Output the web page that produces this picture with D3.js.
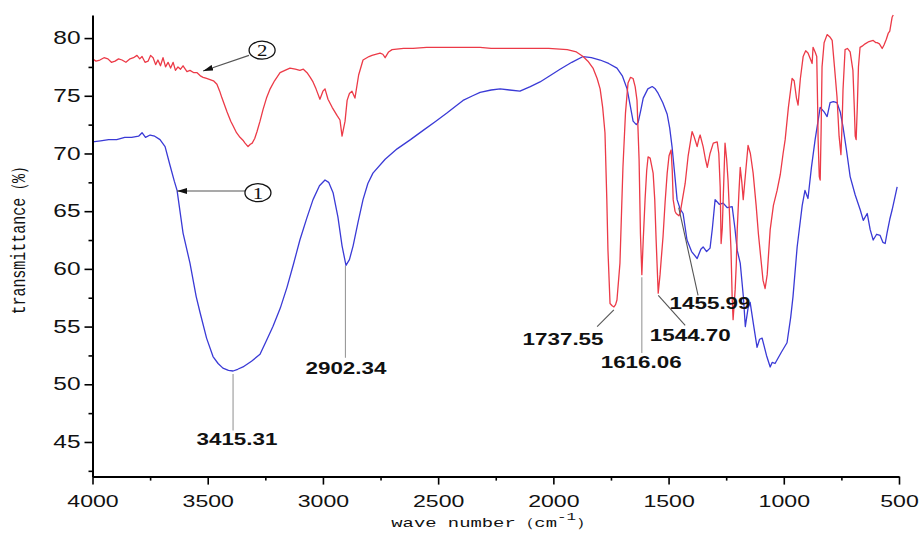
<!DOCTYPE html>
<html>
<head>
<meta charset="utf-8">
<script src="https://cdn.jsdelivr.net/npm/d3@7"></script>
<style>
body { margin: 0; background: #fff; }
</style>
</head>
<body>
<div id="chart"></div>
<script>
// tick values
const xTicks = [4000, 3500, 3000, 2500, 2000, 1500, 1000, 500];
const xMinor = [3750, 3250, 2750, 2250, 1750, 1250, 750];
const yTicks = [45, 50, 55, 60, 65, 70, 75, 80];
const yMinor = [42.5, 47.5, 52.5, 57.5, 62.5, 67.5, 72.5, 77.5];

// sample 1 (blue) : [wave number, transmittance]
const sample1 = [[4000,71.0],[3965,71.1],[3930,71.2],[3895,71.2],[3860,71.4],[3830,71.4],[3800,71.5],[3785,71.8],[3770,71.4],[3750,71.6],[3730,71.5],[3707,71.2],[3685,70.6],[3664,69.0],[3645,67.6],[3633,66.8],[3607,63.1],[3577,60.5],[3550,57.6],[3533,56.2],[3505,54.0],[3477,52.4],[3455,51.8],[3434,51.4],[3410,51.2],[3390,51.15],[3370,51.3],[3347,51.5],[3310,52.0],[3273,52.6],[3245,53.8],[3217,55.0],[3185,56.6],[3156,58.4],[3128,60.4],[3100,62.5],[3070,64.4],[3043,66.0],[3015,67.2],[2991,67.7],[2975,67.5],[2956,66.6],[2935,64.5],[2917,62.0],[2900,60.3],[2885,60.8],[2869,62.0],[2848,64.0],[2826,66.0],[2805,67.4],[2783,68.3],[2730,69.5],[2678,70.4],[2620,71.2],[2565,72.0],[2510,72.8],[2462,73.5],[2430,74.0],[2392,74.6],[2350,75.0],[2318,75.3],[2270,75.5],[2231,75.6],[2190,75.5],[2145,75.4],[2100,75.8],[2058,76.2],[2010,76.8],[1971,77.3],[1920,77.9],[1871,78.4],[1835,78.3],[1797,78.1],[1760,77.8],[1724,77.4],[1700,76.7],[1680,75.6],[1665,74.0],[1654,72.8],[1640,72.5],[1632,72.7],[1620,73.8],[1610,74.8],[1590,75.6],[1571,75.8],[1558,75.6],[1545,75.2],[1525,74.4],[1506,73.4],[1495,72.2],[1485,70.6],[1470,67.5],[1463,66.0],[1450,65.2],[1437,64.8],[1420,62.5],[1400,61.5],[1376,60.9],[1360,61.7],[1350,61.9],[1335,61.5],[1320,61.8],[1310,63.5],[1298,66.0],[1280,65.6],[1263,65.7],[1245,65.3],[1224,65.4],[1212,63.5],[1202,61.6],[1189,60.5],[1175,57.5],[1167,55.0],[1155,56.6],[1146,57.1],[1130,55.0],[1116,53.2],[1105,53.9],[1094,54.0],[1075,52.5],[1059,51.5],[1050,51.9],[1038,51.8],[1010,52.8],[986,53.6],[970,55.8],[960,57.6],[942,61.9],[920,65.5],[908,66.8],[895,66.1],[880,68.8],[864,71.2],[842,74.0],[825,73.6],[812,73.2],[799,74.4],[785,74.5],[769,74.4],[755,73.6],[743,72.3],[728,70.3],[712,68.0],[690,66.4],[668,65.1],[655,64.2],[638,64.8],[625,63.4],[612,62.5],[597,63.0],[582,62.9],[570,62.3],[560,62.2],[552,63.1],[540,64.3],[530,65.1],[520,66.0],[508,67.1]];

// sample 2 (red)
const sample2 = [[4000,78.2],[3985,78.0],[3968,78.1],[3950,78.3],[3933,78.2],[3918,77.9],[3902,78.0],[3887,78.2],[3872,78.1],[3855,77.9],[3837,78.2],[3822,78.3],[3807,78.5],[3795,78.2],[3785,78.4],[3772,77.9],[3759,78.0],[3748,78.5],[3737,78.3],[3726,77.7],[3716,78.1],[3705,77.6],[3694,78.3],[3683,77.5],[3672,77.9],[3661,77.4],[3650,77.9],[3640,77.2],[3629,77.5],[3618,77.3],[3607,77.6],[3590,77.1],[3577,77.2],[3560,77.0],[3546,77.0],[3530,76.7],[3520,76.6],[3505,76.5],[3490,76.4],[3475,76.3],[3460,76.0],[3448,75.4],[3438,74.8],[3427,74.2],[3416,73.6],[3400,72.8],[3390,72.4],[3375,71.8],[3360,71.4],[3345,71.1],[3338,70.9],[3325,70.6],[3315,70.8],[3307,70.9],[3296,71.3],[3286,71.9],[3273,72.8],[3260,73.8],[3245,74.8],[3229,75.6],[3210,76.3],[3186,77.0],[3165,77.2],[3143,77.4],[3120,77.3],[3100,77.2],[3085,77.3],[3069,77.0],[3055,76.6],[3043,76.2],[3030,75.6],[3013,74.7],[3000,75.4],[2991,75.6],[2978,74.7],[2960,74.0],[2939,73.3],[2926,72.9],[2917,71.5],[2904,72.8],[2895,74.6],[2885,75.2],[2874,75.4],[2861,74.8],[2845,76.8],[2826,78.1],[2800,78.4],[2787,78.5],[2752,78.7],[2740,78.6],[2730,78.3],[2715,78.8],[2700,79.0],[2650,79.1],[2609,79.1],[2550,79.2],[2462,79.2],[2400,79.2],[2318,79.2],[2270,79.1],[2231,79.1],[2160,79.1],[2088,79.1],[2020,79.1],[1940,79.0],[1900,78.8],[1871,78.4],[1850,78.0],[1828,77.4],[1810,76.5],[1797,75.6],[1786,74.0],[1776,71.8],[1768,66.0],[1763,61.6],[1754,57.0],[1745,56.8],[1737,56.7],[1730,56.9],[1724,57.3],[1715,59.5],[1711,60.5],[1704,65.0],[1698,68.8],[1687,73.5],[1676,76.1],[1665,76.6],[1654,76.5],[1645,75.8],[1637,74.6],[1628,69.5],[1622,63.0],[1616,59.5],[1610,62.5],[1602,66.0],[1595,68.5],[1589,69.7],[1580,69.6],[1567,68.3],[1560,66.0],[1554,62.5],[1545,57.9],[1537,59.5],[1532,60.8],[1524,62.8],[1515,65.8],[1506,68.3],[1498,69.8],[1489,70.3],[1484,68.5],[1480,66.0],[1472,65.0],[1467,64.8],[1455,64.6],[1450,64.8],[1440,66.0],[1428,67.4],[1415,69.8],[1398,71.9],[1390,71.5],[1376,70.6],[1368,71.3],[1363,71.6],[1350,70.6],[1340,69.5],[1332,68.8],[1320,70.0],[1306,70.9],[1289,71.0],[1282,70.0],[1276,67.1],[1272,62.2],[1267,63.5],[1263,66.0],[1255,70.9],[1248,69.5],[1242,67.7],[1235,64.5],[1229,61.6],[1224,57.5],[1220,55.6],[1211,58.2],[1206,60.5],[1202,63.4],[1195,66.5],[1189,68.8],[1182,67.5],[1176,66.0],[1165,68.5],[1155,70.7],[1145,70.0],[1133,68.3],[1120,65.5],[1110,63.0],[1103,61.6],[1090,59.0],[1081,58.3],[1072,59.5],[1059,63.4],[1045,65.5],[1029,66.8],[1015,68.2],[1003,70.0],[994,71.2],[980,74.0],[964,76.5],[955,76.3],[945,74.8],[938,74.2],[928,76.5],[916,78.4],[905,78.9],[895,78.7],[885,78.2],[877,77.8],[873,79.2],[864,78.8],[857,78.4],[853,74.0],[851,71.2],[846,68.0],[842,67.7],[838,72.0],[834,77.5],[825,79.6],[812,80.3],[800,80.1],[790,79.8],[780,77.5],[769,74.9],[760,71.5],[752,69.9],[747,72.5],[743,75.5],[734,79.0],[724,79.1],[712,78.8],[700,77.2],[694,74.0],[690,71.5],[686,71.2],[681,74.0],[676,77.5],[669,79.2],[660,79.3],[647,79.5],[630,79.7],[612,79.8],[600,79.6],[595,79.6],[585,79.5],[573,79.1],[565,79.4],[555,79.9],[547,80.4],[540,80.6],[530,81.8],[525,82.0]];

// peak labels: leader from the curve at wn down to (endWn,endT), text at (lblWn,lblT)
const peaks = [
  {label: "3415.31", wn: 3390, s: 1, endWn: 3390, endT: 46.0, lblWn: 3373, lblT: 44.75},
  {label: "2902.34", wn: 2902.34, s: 1, endWn: 2902.34, endT: 52.3, lblWn: 2900, lblT: 50.9},
  {label: "1737.55", wn: 1737.55, s: 2, endWn: 1810, endT: 55.0, lblWn: 1958, lblT: 53.4},
  {label: "1616.06", wn: 1616.06, s: 2, endWn: 1616.06, endT: 52.7, lblWn: 1619, lblT: 51.4},
  {label: "1544.70", wn: 1544.70, s: 2, endWn: 1428, endT: 55.1, lblWn: 1406, lblT: 53.75},
  {label: "1455.99", wn: 1455.99, s: 1, endWn: 1372, endT: 57.7, lblWn: 1320, lblT: 56.5}
];

// sample markers (circled numbers with arrows)
const markers = [
  {num: "1", cWn: 3282, cT: 66.6, fromWn: 3338, fromT: 66.75, toWn: 3633, toT: 66.75},
  {num: "2", cWn: 3264, cT: 78.95, fromWn: 3321, fromT: 78.5, toWn: 3520, toT: 77.15}
];

const W = 919, H = 537;
const margin = {top: 15, right: 20, bottom: 60, left: 92.5};
const SX = 1.4; // the picture is stretched sideways

const svg = d3.select("#chart").append("svg")
  .attr("width", W)
  .attr("height", H)
  .style("font-family", "'Liberation Sans', Arial, sans-serif");

const x = d3.scaleLinear().domain([4000, 500]).range([margin.left, 899]);
const y = d3.scaleLinear().domain([42, 82]).range([H - margin.bottom - 0.4, margin.top]);

const defs = svg.append("defs");
defs.append("marker")
  .attr("id", "head")
  .attr("viewBox", "0 0 10 6")
  .attr("refX", 10).attr("refY", 3)
  .attr("markerWidth", 10).attr("markerHeight", 6)
  .attr("markerUnits", "userSpaceOnUse")
  .attr("orient", "auto")
  .append("path")
  .attr("d", "M0,0 L10,3 L0,6 Z")
  .attr("fill", "#111");

// curves
const line = d3.line()
  .x(d => x(d[0]))
  .y(d => y(d[1]));

svg.append("path")
  .datum(sample1)
  .attr("fill", "none")
  .attr("stroke", "#3a3ad6")
  .attr("stroke-width", 1.3)
  .attr("stroke-linejoin", "round")
  .attr("d", line);

svg.append("path")
  .datum(sample2)
  .attr("fill", "none")
  .attr("stroke", "#ec3a47")
  .attr("stroke-width", 1.3)
  .attr("stroke-linejoin", "round")
  .attr("d", line);

// axes
const yAxisY = H - margin.bottom - 0.4;
const xAxis = svg.append("g")
  .attr("transform", "translate(0," + yAxisY + ")")
  .call(d3.axisBottom(x).tickValues(xTicks).tickSize(8).tickSizeOuter(0).tickFormat(d3.format("d")));
xAxis.select(".domain").attr("stroke-width", 2);
xAxis.selectAll(".tick line").attr("stroke-width", 1.6);
xAxis.selectAll("text")
  .attr("y", null)
  .attr("dy", null)
  .attr("font-size", 16.5)
  .attr("font-family", "'Liberation Sans', Arial, sans-serif")
  .attr("fill", "#111")
  .attr("transform", "translate(0,30) scale(" + SX + ",1)");

svg.append("g")
  .attr("transform", "translate(0," + yAxisY + ")")
  .call(d3.axisBottom(x).tickValues(xMinor).tickSize(4).tickSizeOuter(0).tickFormat(""))
  .call(g => g.select(".domain").remove())
  .selectAll(".tick line").attr("stroke-width", 1.6);

const yAxis = svg.append("g")
  .attr("transform", "translate(" + margin.left + ",0)")
  .call(d3.axisLeft(y).tickValues(yTicks).tickSize(8).tickSizeOuter(0));
yAxis.select(".domain").attr("stroke-width", 2);
yAxis.selectAll(".tick line").attr("stroke-width", 1.6);
yAxis.selectAll("text")
  .attr("x", null)
  .attr("font-size", 17.5)
  .attr("font-family", "'Liberation Sans', Arial, sans-serif")
  .attr("fill", "#111")
  .attr("transform", "translate(-12,0) scale(" + SX + ",1)");

svg.append("g")
  .attr("transform", "translate(" + margin.left + ",0)")
  .call(d3.axisLeft(y).tickValues(yMinor).tickSize(4).tickSizeOuter(0).tickFormat(""))
  .call(g => g.select(".domain").remove())
  .selectAll(".tick line").attr("stroke-width", 1.6);

// axis titles
const xt = svg.append("text")
  .attr("transform", "translate(493,527) scale(1.45,1)")
  .attr("text-anchor", "middle")
  .style("font-family", "'Liberation Mono', 'DejaVu Sans Mono', monospace")
  .style("font-size", "13px")
  .attr("fill", "#111");
xt.append("tspan").text("wave number\uff08cm");
xt.append("tspan").attr("dy", -7).style("font-size", "11px").text("-1");
xt.append("tspan").attr("dy", 7).text("\uff09");

svg.append("text")
  .attr("transform", "translate(25,237) rotate(-90) scale(1,1.3)")
  .attr("text-anchor", "middle")
  .style("font-family", "'Liberation Mono', 'DejaVu Sans Mono', monospace")
  .style("font-size", "15px")
  .attr("fill", "#111")
  .text("transmittance\uff08%\uff09");

// value of a series at a wave number
function valueAt(data, wn) {
  for (let i = 1; i < data.length; i++) {
    const a = data[i - 1], b = data[i];
    if (wn <= a[0] && wn >= b[0]) {
      return a[1] + (b[1] - a[1]) * (a[0] - wn) / (a[0] - b[0]);
    }
  }
  return data[data.length - 1][1];
}

// peak leaders and labels
peaks.forEach(p => {
  const data = p.s === 1 ? sample1 : sample2;
  const vx = x(p.wn), vy = y(valueAt(data, p.wn)) + 3;
  svg.append("line")
    .attr("x1", vx).attr("y1", vy)
    .attr("x2", x(p.endWn)).attr("y2", y(p.endT))
    .attr("stroke", p.endWn === p.wn ? "#999" : "#555")
    .attr("stroke-width", 1.1);
  svg.append("text")
    .attr("transform", "translate(" + x(p.lblWn) + "," + y(p.lblT) + ") scale(" + SX + ",1)")
    .attr("text-anchor", "middle")
    .style("font-size", "16px")
    .style("font-weight", "bold")
    .attr("fill", "#111")
    .text(p.label);
});

// circled sample numbers
markers.forEach(m => {
  svg.append("line")
    .attr("x1", x(m.fromWn)).attr("y1", y(m.fromT))
    .attr("x2", x(m.toWn)).attr("y2", y(m.toT))
    .attr("stroke", "#555")
    .attr("stroke-width", 1.1)
    .attr("marker-end", "url(#head)");
  svg.append("ellipse")
    .attr("cx", x(m.cWn)).attr("cy", y(m.cT))
    .attr("rx", 13).attr("ry", 9)
    .attr("fill", "none")
    .attr("stroke", "#111")
    .attr("stroke-width", 1.3);
  svg.append("text")
    .attr("transform", "translate(" + x(m.cWn) + "," + (y(m.cT) + 6) + ") scale(1.3,1)")
    .attr("text-anchor", "middle")
    .style("font-family", "'Liberation Serif', serif")
    .style("font-size", "16px")
    .attr("fill", "#111")
    .text(m.num);
});
</script>
</body>
</html>
